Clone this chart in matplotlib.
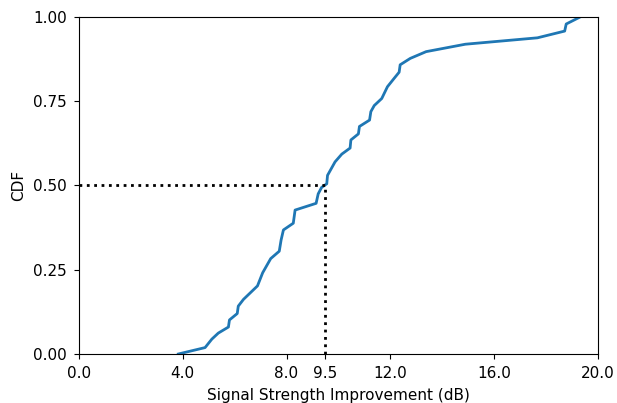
import matplotlib
matplotlib.use('Agg')
import matplotlib.pyplot as plt

# CDF curve
improvement_db = [3.83, 4.86, 5.12, 5.37, 5.76, 5.80, 6.10, 6.14, 6.34, 6.88,
                  7.08, 7.39, 7.72, 7.79, 7.88, 8.26, 8.33, 9.14, 9.22, 9.35,
                  9.55, 9.58, 9.87, 10.13, 10.45, 10.48, 10.77, 10.81, 11.20, 11.25,
                  11.38, 11.67, 11.89, 12.15, 12.34, 12.38, 12.77, 13.38, 14.89, 17.67,
                  18.72, 18.78, 19.32]
cdf = [0.0, 0.019, 0.044, 0.062, 0.080, 0.101, 0.120, 0.142, 0.162, 0.202,
       0.241, 0.283, 0.305, 0.338, 0.368, 0.388, 0.427, 0.447, 0.475, 0.494,
       0.505, 0.530, 0.570, 0.593, 0.611, 0.635, 0.653, 0.675, 0.694, 0.719,
       0.737, 0.758, 0.793, 0.818, 0.836, 0.858, 0.877, 0.897, 0.919, 0.938,
       0.958, 0.979, 1.0]

median_x = 9.5
x_ticks = [0.0, 4.0, 8.0, 9.5, 12.0, 16.0, 20.0]
y_ticks = [0.0, 0.25, 0.5, 0.75, 1.0]

fig = plt.figure(figsize=(6.17, 4.03), dpi=100)
ax = fig.add_axes([0.128, 0.1216, 0.841, 0.8364])

ax.plot(improvement_db, cdf, color='#1f77b4', linewidth=2)
ax.plot([0, median_x], [0.5, 0.5], color='black', linestyle=':', linewidth=2)
ax.plot([median_x, median_x], [0, 0.5], color='black', linestyle=':', linewidth=2)

ax.set_xlim(0, 20)
ax.set_ylim(0, 1)
ax.set_xticks(x_ticks)
ax.set_xticklabels([f'{v:.1f}' for v in x_ticks])
ax.set_yticks(y_ticks)
ax.set_yticklabels([f'{v:.2f}' for v in y_ticks])
ax.tick_params(labelsize=11, pad=5)
ax.set_xlabel('Signal Strength Improvement (dB)', fontsize=11, labelpad=5)
ax.set_ylabel('CDF', fontsize=11, labelpad=5)

fig.savefig('out.png', dpi=100)
